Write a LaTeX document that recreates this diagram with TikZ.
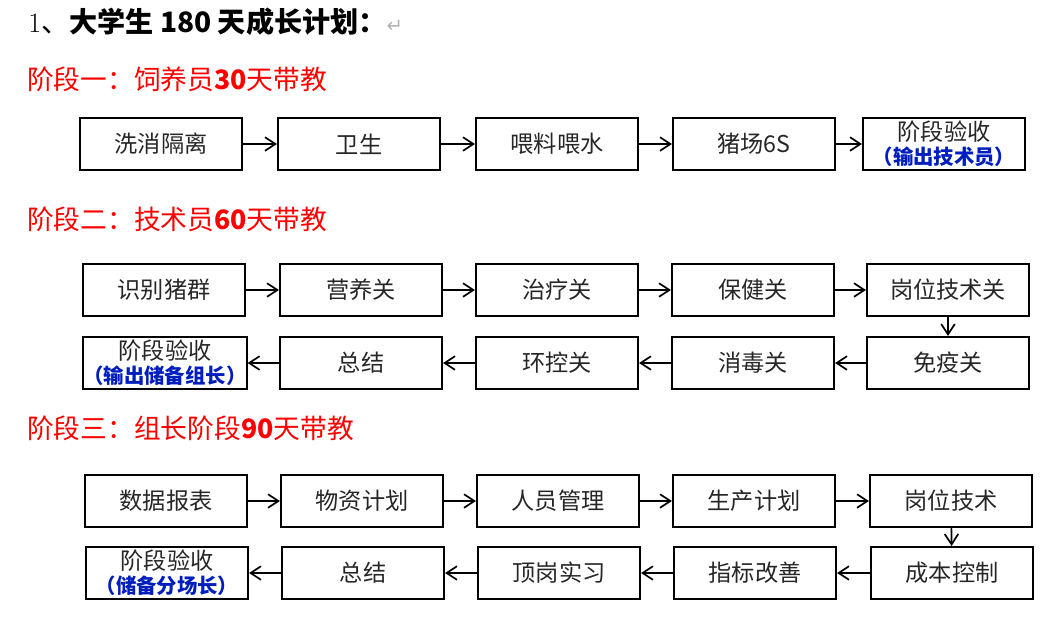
\documentclass[tikz,border=0pt]{standalone}
\usepackage{fontspec}
\usepackage{xcolor}
\usepackage{tikz}
\usetikzlibrary{arrows.meta}
\newfontfamily\cjk{Noto Sans CJK SC}
\newfontfamily\symfont{DejaVu Sans}
\definecolor{stagered}{RGB}{255,0,0}
\definecolor{outblue}{RGB}{0,30,190}
\tikzset{
  box/.style={draw, line width=1.5pt, minimum width=4.05cm, minimum height=1.3cm,
    inner sep=0pt, align=center, text=black!85, font=\cjk\fontsize{16.5}{17}\selectfont},
  flow/.style={line width=1.2pt, -{Straight Barb[length=2.6mm,width=3.4mm]}},
  stage/.style={anchor=west, inner sep=0pt, text=stagered, font=\cjk\fontsize{19}{21}\selectfont}
}
\newcommand{\outtext}[1]{{\color{outblue}\bfseries\fontsize{14.5}{17}\selectfont #1}}

\begin{document}
\begin{tikzpicture}[x=0.025cm,y=-0.025cm]
\useasboundingbox (0,0) rectangle (1047,621);
% title
\node[anchor=west, inner sep=0pt, font=\fontsize{20}{22}\selectfont] (title) at (28,22)
  {1{\cjk 、\bfseries 大学生 180 天成长计划：}{\symfont\color{gray!60}\fontsize{14}{16}\selectfont ↵}};

% stage one
\node[stage] (st1) at (27,79) {阶段一：饲养员{\bfseries 30}天带教};
\node[box] (wash) at (161,144) {洗消隔离};
\node[box] (hyg) at (359,144) {卫生};
\node[box] (feed) at (557,144) {喂料喂水};
\node[box] (sixs) at (754,144) {猪场6S};
\node[box] (chk1) at (944,144) {阶段验收\\\outtext{（输出技术员）}};
\draw[flow] (wash) -- (hyg);
\draw[flow] (hyg) -- (feed);
\draw[flow] (feed) -- (sixs);
\draw[flow] (sixs) -- (chk1);

% stage two
\node[stage] (st2) at (27,219) {阶段二：技术员{\bfseries 60}天带教};
\node[box] (herd) at (164,290) {识别猪群};
\node[box] (nutr) at (361,290) {营养关};
\node[box] (cure) at (557,290) {治疗关};
\node[box] (care) at (753,290) {保健关};
\node[box] (post) at (948,290) {岗位技术关};
\node[box] (chk2) at (165,363) {阶段验收\\\outtext{（输出储备组长）}};
\node[box] (sum2) at (361,363) {总结};
\node[box] (envc) at (557,363) {环控关};
\node[box] (disf) at (753,363) {消毒关};
\node[box] (immu) at (948,363) {免疫关};
\draw[flow] (herd) -- (nutr);
\draw[flow] (nutr) -- (cure);
\draw[flow] (cure) -- (care);
\draw[flow] (care) -- (post);
\draw[flow] (post) -- (immu);
\draw[flow] (immu) -- (disf);
\draw[flow] (disf) -- (envc);
\draw[flow] (envc) -- (sum2);
\draw[flow] (sum2) -- (chk2);

% stage three
\node[stage] (st3) at (27,428) {阶段三：组长阶段{\bfseries 90}天带教};
\node[box] (data) at (166,501) {数据报表};
\node[box] (matl) at (362,501) {物资计划};
\node[box] (staff) at (558,501) {人员管理};
\node[box] (prod) at (754,501) {生产计划};
\node[box] (skill) at (951,501) {岗位技术};
\node[box] (chk3) at (167,573) {阶段验收\\\outtext{（储备分场长）}};
\node[box] (sum3) at (363,573) {总结};
\node[box] (duty) at (559,573) {顶岗实习};
\node[box] (index) at (755,573) {指标改善};
\node[box] (cost) at (952,573) {成本控制};
\draw[flow] (data) -- (matl);
\draw[flow] (matl) -- (staff);
\draw[flow] (staff) -- (prod);
\draw[flow] (prod) -- (skill);
\draw[flow] (skill) -- (cost);
\draw[flow] (cost) -- (index);
\draw[flow] (index) -- (duty);
\draw[flow] (duty) -- (sum3);
\draw[flow] (sum3) -- (chk3);
\end{tikzpicture}
\end{document}
